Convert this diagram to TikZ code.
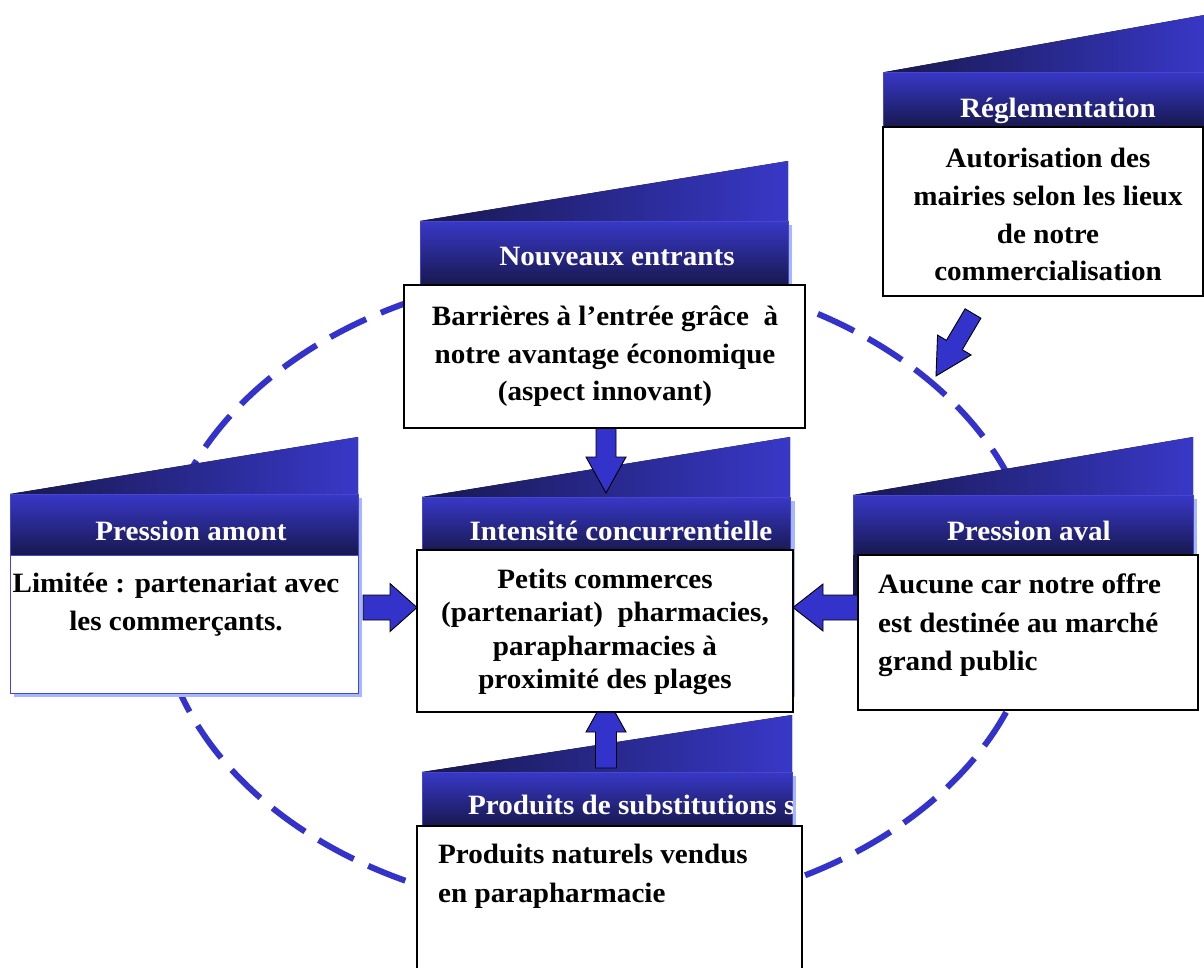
\documentclass[tikz,border=0pt]{standalone}
\usepackage{fontspec}
\setmainfont{Liberation Serif}[FakeStretch=1.04]
\usetikzlibrary{calc}

\definecolor{forceblue}{HTML}{3333CC}
\definecolor{navydark}{HTML}{18184F}
\definecolor{navymid}{HTML}{262684}
\definecolor{navylight}{HTML}{3838C8}
\definecolor{shadowblue}{HTML}{A6B6FF}
\definecolor{edgeblue}{HTML}{4646D0}

% block arrow from #1 to #2: tail half width #3, head half width #4, head length #5
\newcommand\forcearrow[5]{%
  \coordinate (fahead) at ($(#2)!#5!(#1)$);
  \filldraw[barrow] ($(#1)!#3!90:(#2)$) -- ($(fahead)!#3!90:(#2)$)
    -- ($(fahead)!#4!90:(#2)$) -- (#2) -- ($(fahead)!#4!-90:(#2)$)
    -- ($(fahead)!#3!-90:(#2)$) -- ($(#1)!#3!-90:(#2)$) -- cycle;}

\tikzset{
  wedge/.style={left color=navydark, right color=navylight},
  band/.style={top color=navylight, middle color=navymid, bottom color=navydark,
               draw=edgeblue, line width=0.8pt},
  shadowrect/.style={fill=shadowblue},
  heading/.style={text=white, font=\bfseries\fontsize{28}{34}\selectfont,
                  inner sep=0pt, anchor=base},
  bodytext/.style={font=\bfseries\fontsize{28}{#1}\selectfont, inner sep=0pt},
  whitecard/.style={draw=black, line width=1.6pt, fill=white, rectangle,
                    inner sep=0pt, outer sep=0pt, anchor=north west},
  barrow/.style={fill=forceblue, draw=black, line width=0.9pt, line join=miter},
}

\begin{document}
\begin{tikzpicture}[x=1pt, y=-1pt]
\useasboundingbox[fill=white] (0,0) rectangle (1204,967);

% the dashed ring behind everything
\draw[forceblue, line width=6pt, dash pattern=on 40pt off 16pt]
  (598,592) ellipse [x radius=440pt, y radius=321pt];

% ---- Réglementation header
\fill[wedge] (885,72) -- (1210,14) -- (1210,72) -- cycle;
\path[band] (883,72) rectangle (1210,127);
\node[heading] (rhead) at (1058,117) {Réglementation};

% ---- Nouveaux entrants header
\fill[shadowrect] (424,225) rectangle (791.5,289);
\fill[wedge] (420,221) -- (788,161) -- (788,221) -- cycle;
\path[band] (420,221) rectangle (788,285);
\node[heading] (nhead) at (617,265) {Nouveaux entrants};

% ---- Intensité concurrentielle header
\fill[shadowrect] (426,501) rectangle (794.5,697);
\fill[wedge] (422,497) -- (790,437) -- (790,497) -- cycle;
\path[band] (422,497) rectangle (790,553);
\node[heading] (ihead) at (621,540) {Intensité concurrentielle};

% ---- Pression amont card
\fill[shadowrect] (14,498) rectangle (362,697);
\fill[wedge] (10,494) -- (358,437) -- (358,494) -- cycle;
\path[band] (10,494) rectangle (358,555);
\node[heading] (pahead) at (191,540) {Pression amont};
\node[draw=edgeblue, line width=1pt, fill=white, rectangle, inner sep=0pt,
      anchor=north west, minimum width=348pt, minimum height=138pt] (pabox) at (10,555) {};

% ---- Pression aval header
\fill[shadowrect] (857,499) rectangle (1197,700);
\fill[wedge] (853,495) -- (1193,437) -- (1193,495) -- cycle;
\path[band] (853,495) rectangle (1193,555);
\fill[navydark] (853,555) rectangle (859,612);
\node[heading] (pvhead) at (1029,540) {Pression aval};

% ---- Produits de substitutions header
\fill[shadowrect] (426,776) rectangle (795.5,980);
\fill[wedge] (422,772) -- (792,715) -- (792,772) -- cycle;
\path[band] (422,772) rectangle (792,826);
\begin{scope}
  \clip (422,772) rectangle (792,826);
  \node[heading, anchor=base west] (pshead) at (468,814) {Produits de substitutions s};
\end{scope}

% ---- arrows towards the central box
\coordinate (a1s) at (606,428);
\coordinate (a1t) at (606,493);
\forcearrow{a1s}{a1t}{10pt}{20pt}{36pt}
\coordinate (a2s) at (606,768);
\coordinate (a2t) at (606,696);
\forcearrow{a2s}{a2t}{10.5pt}{20pt}{36pt}
\coordinate (a3s) at (363,607.5);
\coordinate (a3t) at (417,607.5);
\forcearrow{a3s}{a3t}{12.5pt}{24pt}{27pt}
\coordinate (a4s) at (858,607.5);
\coordinate (a4t) at (793,607.5);
\forcearrow{a4s}{a4t}{12.5pt}{23.5pt}{30pt}

% ---- white text boxes
\node[whitecard, minimum width=320pt, minimum height=169pt] (rbox) at (883,127) {};
\node[whitecard, minimum width=401pt, minimum height=143pt] (nbox) at (404,285) {};
\node[whitecard, minimum width=376pt, minimum height=162pt] (cbox) at (417,550) {};
\node[whitecard, minimum width=340pt, minimum height=155pt] (pvbox) at (858,555) {};
\node[whitecard, minimum width=385pt, minimum height=160pt] (psbox) at (417,826) {};

% ---- arrow from the regulation box onto the ring
\coordinate (a5s) at (973,313.5);
\coordinate (a5t) at (936,376);
\forcearrow{a5s}{a5t}{9.2pt}{19.5pt}{36pt}

% ---- texts
\node[bodytext=37.7pt, align=center, anchor=north] (rtext) at (1048,148)
  {Autorisation des\\mairies selon les lieux\\de notre\\commercialisation};
\node[bodytext=37.5pt, align=center, anchor=north] (ntext) at (605,306)
  {Barrières à l’entrée grâce~ à\\notre avantage économique\\(aspect innovant)};
\node[bodytext=33.3pt, align=center, anchor=north] (ctext) at (605,569)
  {Petits commerces\\(partenariat)~ pharmacies,\\parapharmacies à\\proximité des plages};
\node[bodytext=38pt, align=center, anchor=north] (patext) at (176,573)
  {Limitée : partenariat avec\\les commerçants.};
\node[bodytext=38.5pt, align=left, anchor=north west] (pvtext) at (878,574)
  {Aucune car notre offre\\est destinée au marché\\grand public};
\node[bodytext=39pt, align=left, anchor=north west] (pstext) at (438,844)
  {Produits naturels vendus\\en parapharmacie};
\end{tikzpicture}
\end{document}
